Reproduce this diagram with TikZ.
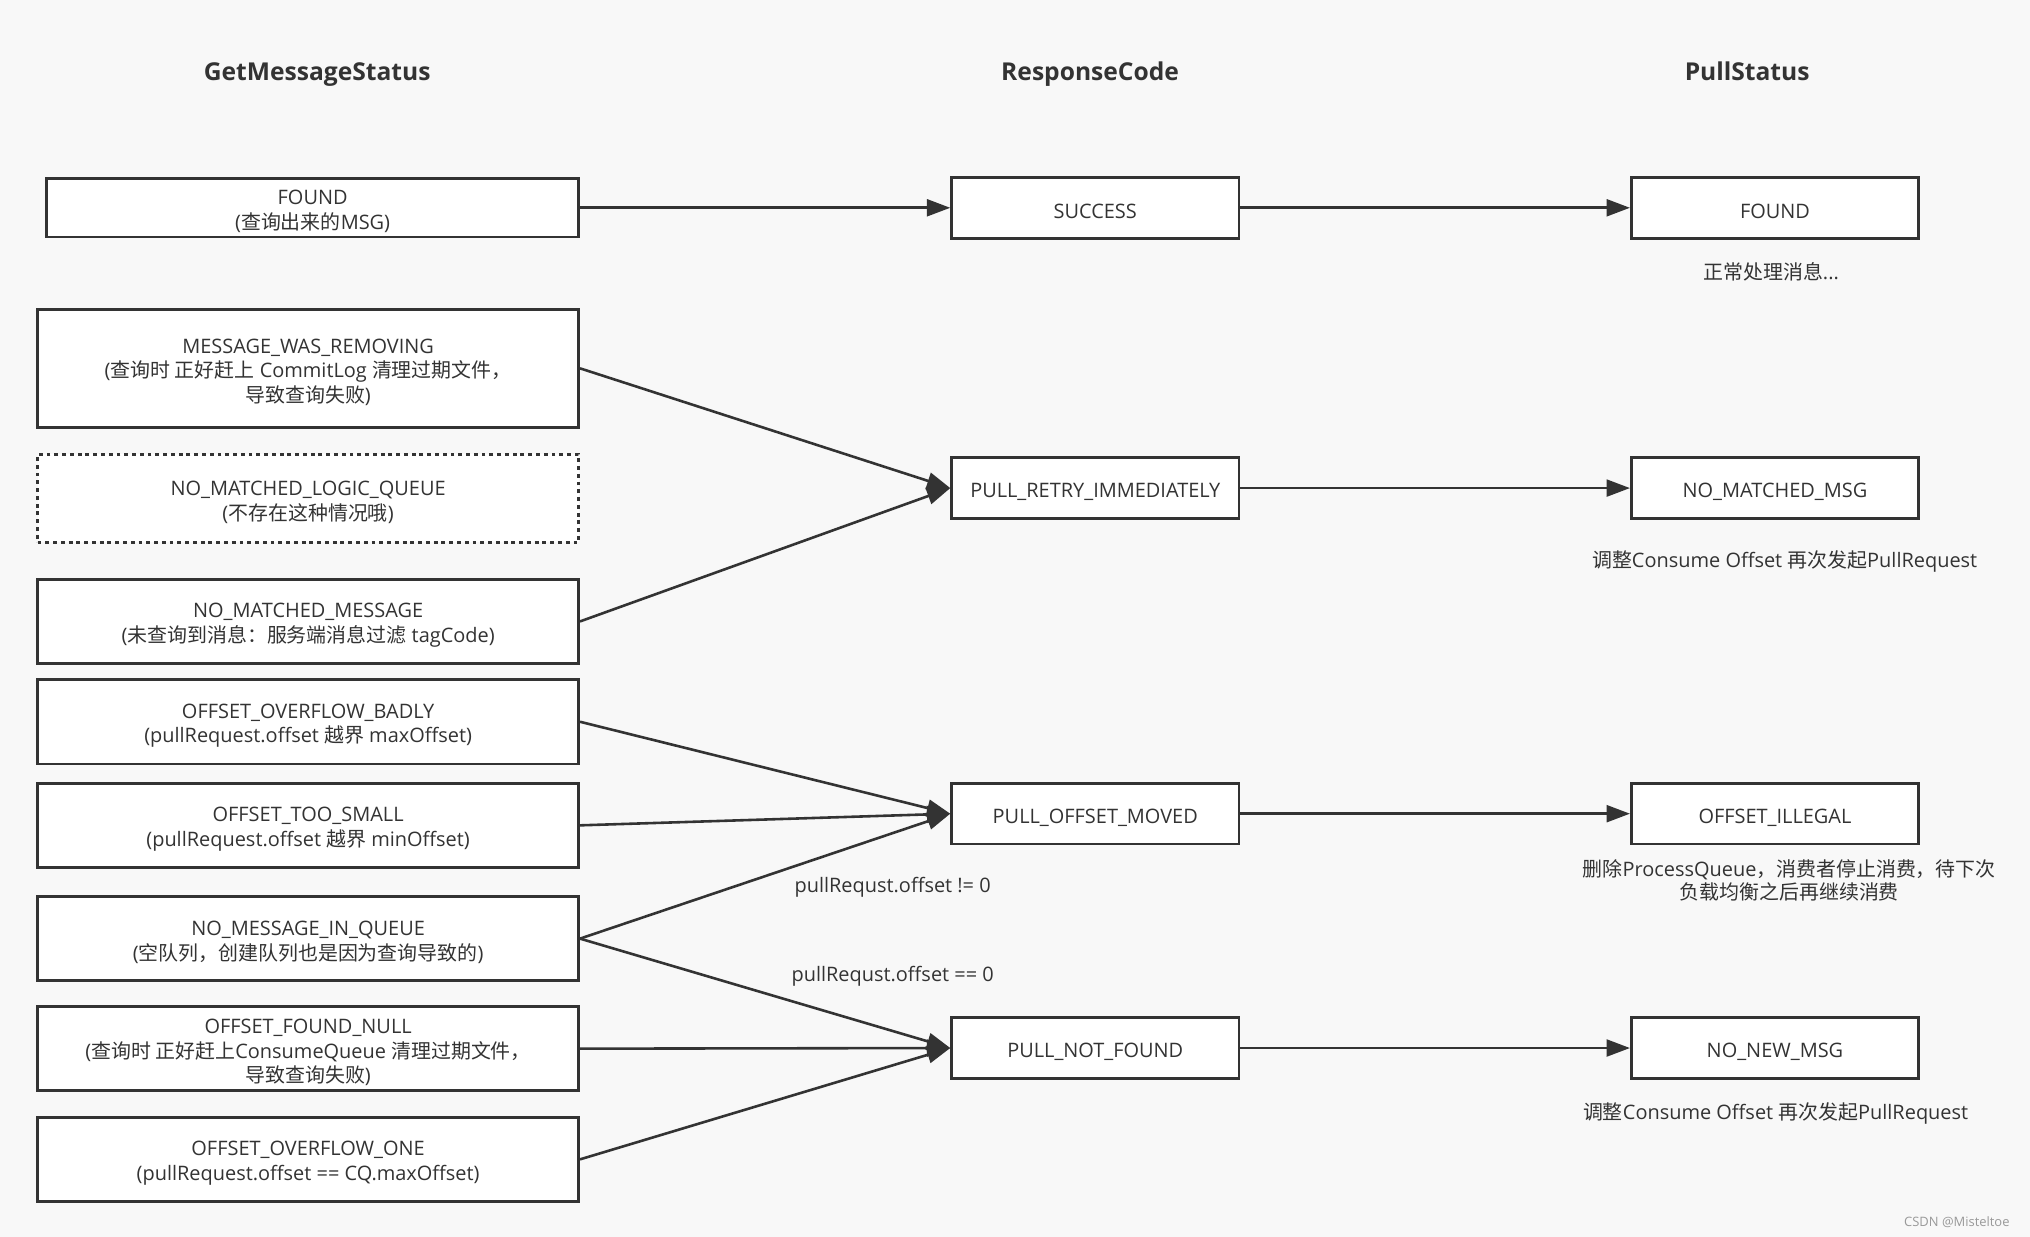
\documentclass[tikz,border=0pt]{standalone}
\usepackage{fontspec}
\setmainfont{Open Sans}
\newfontfamily\zhfont{Noto Sans CJK SC}
\newcommand\zhtxt[1]{{\zhfont #1}}
\newcommand\topstrut{\rule{0pt}{17pt}}
\usetikzlibrary{arrows.meta}
\definecolor{ink}{HTML}{333333}
\definecolor{bgc}{HTML}{F8F8F8}
\begin{document}
\begin{tikzpicture}[x=1pt,y=-1pt,
  box/.style={draw=ink, line width=2pt, fill=white, inner sep=0pt, align=center, text=ink, font=\fontsize{15.4}{19}\selectfont},
  lbox/.style={box, minimum width=418pt, minimum height=65pt},
  mbox/.style={box, minimum width=222pt, minimum height=47pt},
  link/.style={draw=ink, line width=2pt, -{Triangle[length=18pt,width=13pt]}},
  note/.style={text=ink, align=center, inner sep=0pt, font=\fontsize{15.4}{18.5}\selectfont},
  title/.style={text=ink, inner sep=0pt, anchor=base, font=\fontsize{19}{23}\selectfont\bfseries}]
\fill[bgc] (0,0) rectangle (1568,955.4);
\useasboundingbox (0,0) rectangle (1568,955.4);
% titles
\node[title] (t1) at (245,62) {GetMessageStatus};
\node[title] (t2) at (842,62) {ResponseCode};
\node[title] (t3) at (1349.5,62) {PullStatus};
% left column
\node[box, minimum width=411pt, minimum height=45pt] (fnd) at (241.5,160.5) {\topstrut FOUND\\(\zhtxt{查询出来的}MSG)};
\node[lbox, minimum height=91pt] (mwr) at (238,284.5) {\topstrut MESSAGE\_WAS\_REMOVING\\(\zhtxt{查询时 正好赶上} CommitLog \zhtxt{清理过期文件，}\\\zhtxt{导致查询失败})};
\node[lbox, minimum height=68pt, dash pattern=on 3pt off 3pt] (nmlq) at (238,385) {\topstrut NO\_MATCHED\_LOGIC\_QUEUE\\(\zhtxt{不存在这种情况哦})};
\node[lbox] (nmm) at (238,480) {\topstrut NO\_MATCHED\_MESSAGE\\(\zhtxt{未查询到消息：服务端消息过滤} tagCode)};
\node[lbox] (oob) at (238,557.5) {\topstrut OFFSET\_OVERFLOW\_BADLY\\(pullRequest.offset \zhtxt{越界} maxOffset)};
\node[lbox] (ots) at (238,637.5) {\topstrut OFFSET\_TOO\_SMALL\\(pullRequest.offset \zhtxt{越界} minOffset)};
\node[lbox] (nmiq) at (238,725) {\topstrut NO\_MESSAGE\_IN\_QUEUE\\(\zhtxt{空队列，创建队列也是因为查询导致的})};
\node[lbox] (ofn) at (238,810) {\topstrut OFFSET\_FOUND\_NULL\\(\zhtxt{查询时 正好赶上}ConsumeQueue \zhtxt{清理过期文件，}\\\zhtxt{导致查询失败})};
\node[lbox] (ooo) at (238,895.5) {\topstrut OFFSET\_OVERFLOW\_ONE\\(pullRequest.offset == CQ.maxOffset)};
% middle column
\node[mbox] (suc) at (846,160.5) {\topstrut SUCCESS};
\node[mbox] (pri) at (846,377) {\topstrut PULL\_RETRY\_IMMEDIATELY};
\node[mbox] (pom) at (846,628.5) {\topstrut PULL\_OFFSET\_MOVED};
\node[mbox] (pnf) at (846,809.5) {\topstrut PULL\_NOT\_FOUND};
% right column
\node[mbox] (rfnd) at (1371,160.5) {\topstrut FOUND};
\node[mbox] (nmmsg) at (1371,377) {\topstrut NO\_MATCHED\_MSG};
\node[mbox] (oil) at (1371,628.5) {\topstrut OFFSET\_ILLEGAL};
\node[mbox] (nnm) at (1371,809.5) {\topstrut NO\_NEW\_MSG};
% notes
\node[note] (n0) at (1368,210) {\zhtxt{正常处理消息}...};
\node[note] (n1) at (1378.5,433.5) {\zhtxt{调整}Consume Offset \zhtxt{再次发起}PullRequest};
\node[note] (n2) at (1382,680) {\zhtxt{删除}ProcessQueue\zhtxt{，消费者停止消费，待下次}\\\zhtxt{负载均衡之后再继续消费}};
\node[note] (n3) at (1371.5,860) {\zhtxt{调整}Consume Offset \zhtxt{再次发起}PullRequest};
% connectors
\draw[link] (fnd.east) -- (suc.west);
\draw[link] (suc.east) -- (rfnd.west);
\draw[link] (mwr.east) -- (pri.west);
\draw[link] (nmm.east) -- (pri.west);
\draw[link] (pri.east) -- (nmmsg.west);
\draw[link] (oob.east) -- (pom.west);
\draw[link] (ots.east) -- (pom.west);
\draw[link] (nmiq.east) -- (pom.west);
\draw[link] (nmiq.east) -- (pnf.west);
\draw[link] (ofn.east) -- (pnf.west);
\draw[link] (ooo.east) -- (pnf.west);
\draw[link] (pom.east) -- (oil.west);
\draw[link] (pnf.east) -- (nnm.west);
% edge labels
\node[note] (e1) at (689.5,685) {pullRequst.offset != 0};
\node[note] (e2) at (689.5,754.4) {pullRequst.offset == 0};
% watermark
\node[text=black!40, inner sep=0pt, font=\fontsize{10}{12}\selectfont] (wm) at (1511.5,944) {CSDN @Misteltoe};
\end{tikzpicture}
\end{document}
